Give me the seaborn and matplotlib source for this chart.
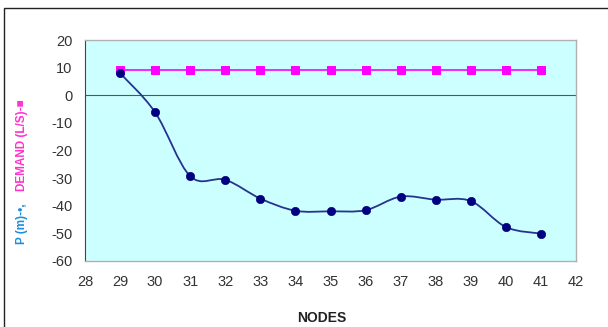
import numpy as np
import pandas as pd
import matplotlib
matplotlib.use('Agg')
import matplotlib.pyplot as plt
import seaborn as sns
from matplotlib.path import Path
from matplotlib.patches import PathPatch, Rectangle

# Values
nodes = [29, 30, 31, 32, 33, 34, 35, 36, 37, 38, 39, 40, 41]
pressure = [8, -6.2, -29.3, -30.6, -37.4, -41.8, -42.0, -41.6, -36.7, -37.8, -38.3, -47.7, -50.1]
demand = [9, 9, 9, 9, 9, 9, 9, 9, 9, 9, 9, 9, 9]
x_ticks = list(range(28, 43))
y_ticks = list(range(-60, 21, 10))

df = pd.DataFrame({'node': nodes, 'P': pressure, 'demand': demand})

sns.set_style('white')
plt.rcParams['font.family'] = ['Liberation Sans', 'DejaVu Sans']

fig = plt.figure(figsize=(6.08, 3.27), dpi=100)
ax = fig.add_axes([85 / 608, 1 - 261 / 327, 491 / 608, 221 / 327])
ax.set_facecolor('#ccffff')

# Excel-like smoothed line (Catmull-Rom -> cubic bezier), drawn in data coords
x = np.array(nodes, dtype=float)
y = np.array(pressure, dtype=float)
verts = [(x[0], y[0])]
codes = [Path.MOVETO]
for i in range(len(x) - 1):
    x0, y0 = (x[i - 1], y[i - 1]) if i > 0 else (x[i], y[i])
    x3, y3 = (x[i + 2], y[i + 2]) if i + 2 < len(x) else (x[i + 1], y[i + 1])
    c1 = (x[i] + (x[i + 1] - x0) / 6, y[i] + (y[i + 1] - y0) / 6)
    c2 = (x[i + 1] - (x3 - x[i]) / 6, y[i + 1] - (y3 - y[i]) / 6)
    verts += [c1, c2, (x[i + 1], y[i + 1])]
    codes += [Path.CURVE4] * 3
ax.add_patch(PathPatch(Path(verts, codes), facecolor='none', edgecolor='#26338f',
                       lw=1.3, transform=ax.transData, zorder=3))

ax.axhline(0, color='#555555', lw=0.8, zorder=2)

sns.lineplot(data=df, x='node', y='demand', ax=ax, color='#ff00ff', lw=1.2,
             marker='s', markersize=6, markeredgecolor='#ff00ff', zorder=4)
sns.scatterplot(data=df, x='node', y='P', ax=ax, color='#000080', s=36,
                edgecolor='#000080', zorder=5)

ax.set_xlim(28, 42)
ax.set_ylim(-60, 20)
ax.set_xticks(x_ticks)
ax.set_xticklabels([str(t) for t in x_ticks], fontsize=10.5, color='#333333')
ax.set_yticks(y_ticks)
ax.set_yticklabels([str(t) for t in y_ticks], fontsize=10.5, color='#333333')
ax.set_xlabel('')
ax.set_ylabel('')
ax.tick_params(axis='y', direction='out', length=3, width=0.8, color='#333333', pad=6)
ax.tick_params(axis='x', direction='out', length=0, pad=10)

for s in ['left']:
    ax.spines[s].set_color('#444444')
    ax.spines[s].set_linewidth(0.8)
for s in ['top', 'right', 'bottom']:
    ax.spines[s].set_color('#b0b0b0')
    ax.spines[s].set_linewidth(1.0)

# axis titles
fig.text(322 / 608, 1 - 318 / 327, 'NODES', ha='center', va='center',
         fontsize=10, fontweight='bold', color='#222222')
fig.text(22 / 608, 1 - 224 / 327, 'P (m)-•,', rotation=90, ha='center', va='center',
         fontsize=8.5, fontweight='bold', color='#1a8fe0')
fig.text(22 / 608, 1 - 145 / 327, 'DEMAND (L/S)-■', rotation=90, ha='center', va='center',
         fontsize=8.5, fontweight='bold', color='#ff33cc')

# outer chart frame
fig.patches.append(Rectangle((4 / 608, -0.02), 1.2, 1 - 8 / 327 + 0.02,
                             transform=fig.transFigure, fill=False,
                             edgecolor='#222222', lw=1.0))

fig.savefig('out.png', dpi=100)
